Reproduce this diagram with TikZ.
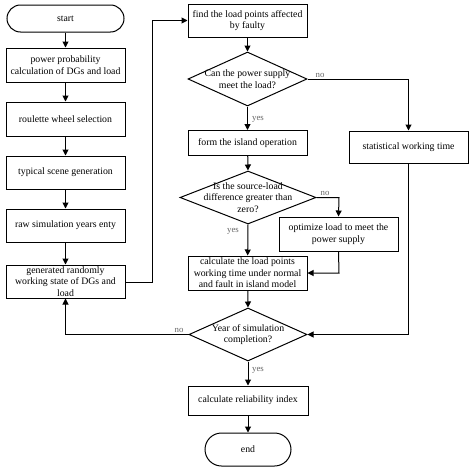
\documentclass[tikz,border=0pt]{standalone}
\usepackage{fontspec}
\setmainfont{Liberation Serif}
\usetikzlibrary{arrows.meta,shapes.geometric,shapes.misc}
\begin{document}
\begin{tikzpicture}[x=1pt,y=-1pt,
  every node/.style={font=\fontsize{9.8}{11.5}\selectfont, align=center, inner sep=1pt},
  proc/.style={draw, line width=1pt, rectangle, minimum width=119pt},
  term/.style={draw, line width=1pt, rounded rectangle, minimum width=119pt, minimum height=27pt},
  dec/.style={draw, line width=1pt, diamond, inner sep=0pt},
  lbl/.style={font=\fontsize{8.8}{9}\selectfont, text=black!60},
  arr/.style={line width=1pt, -{Triangle[width=6pt,length=6pt]}},
  ln/.style={line width=1pt}]
\useasboundingbox (0,0) rectangle (474,471);
% left column
\node[term] (start) at (65.5,18.5) {start};
\node[proc, minimum height=34pt] (pp) at (65.5,65) {power probability\\calculation of DGs and load};
\node[proc, minimum height=34pt] (rw) at (65.5,119) {roulette wheel selection};
\node[proc, minimum height=33pt] (ts) at (65.5,172.5) {typical scene generation};
\node[proc, minimum height=33pt] (rs) at (65.5,225.5) {raw simulation years enty};
\node[proc, minimum height=33pt] (gr) at (65.5,281.5) {generated randomly\\working state of DGs and\\load};
% middle column
\node[proc, minimum height=33pt] (fl) at (247.5,20.5) {find the load points affected\\by faulty};
\node[dec, minimum width=119pt, minimum height=54pt] (d1) at (247.5,79) {};
\node (d1t) at (d1.center) {Can the power supply\\meet the load?};
\node[proc, minimum height=25pt] (fi) at (247.5,143) {form the island operation};
\node[dec, minimum width=136pt, minimum height=53pt] (d2) at (248,197.5) {};
\node (d2t) at (d2.center) {Is the source-load\\difference greater than\\zero?};
\node[proc, minimum height=34pt] (op) at (338.5,234) {optimize load to meet the\\power supply};
\node[proc, minimum height=34pt] (cl) at (247.5,273) {calculate the load points\\working time under normal\\and fault in island model};
\node[dec, minimum width=118pt, minimum height=53pt] (d3) at (248,334.5) {};
\node (d3t) at (d3.center) {Year of simulation\\completion?};
\node[proc, minimum width=120pt, minimum height=29pt] (ri) at (248,400.5) {calculate reliability index};
\node[term, minimum width=88pt, minimum height=33pt] (en) at (248,449.5) {end};
% right column
\node[proc, minimum height=32pt] (st) at (408.5,147) {statistical working time};
% coordinates
\coordinate (c1) at (152,282);
\coordinate (c2) at (152,20.5);
\coordinate (c3) at (408.5,79);
\coordinate (c4) at (339,197.5);
\coordinate (c5) at (339,273);
\coordinate (c6) at (408.5,334.5);
\coordinate (c7) at (65.5,334.5);
% arrows left
\draw[arr] (start) -- (pp);
\draw[arr] (pp) -- (rw);
\draw[arr] (rw) -- (ts);
\draw[arr] (ts) -- (rs);
\draw[arr] (rs) -- (gr);
\draw[arr] (gr.east |- c1) -- (c1) -- (c2) -- (fl.west);
% middle
\draw[arr] (fl) -- (d1.north);
\draw[arr] (d1.south) -- (fi);
\draw[arr] (fi) -- (d2.north);
\draw[arr] (d2.south) -- (cl);
\draw[arr] (cl) -- (d3.north);
\draw[arr] (d3.south) -- (ri);
\draw[arr] (ri) -- (en);
\draw[arr] (d1.east) -- (c3) -- (st.north);
\draw[arr] (d2.east) -- (c4) -- (op.north);
\draw[arr] (op.south) -- (c5) -- (cl.east);
\draw[arr] (st.south) -- (c6) -- (d3.east);
\draw[arr] (d3.west) -- (c7) -- (gr.south);
% labels
\node[lbl] (l1) at (320,75) {no};
\node[lbl] (l2) at (258,119) {yes};
\node[lbl] (l3) at (325,193) {no};
\node[lbl] (l4) at (233,231) {yes};
\node[lbl] (l5) at (179,330) {no};
\node[lbl] (l6) at (258,370) {yes};
\end{tikzpicture}
\end{document}
